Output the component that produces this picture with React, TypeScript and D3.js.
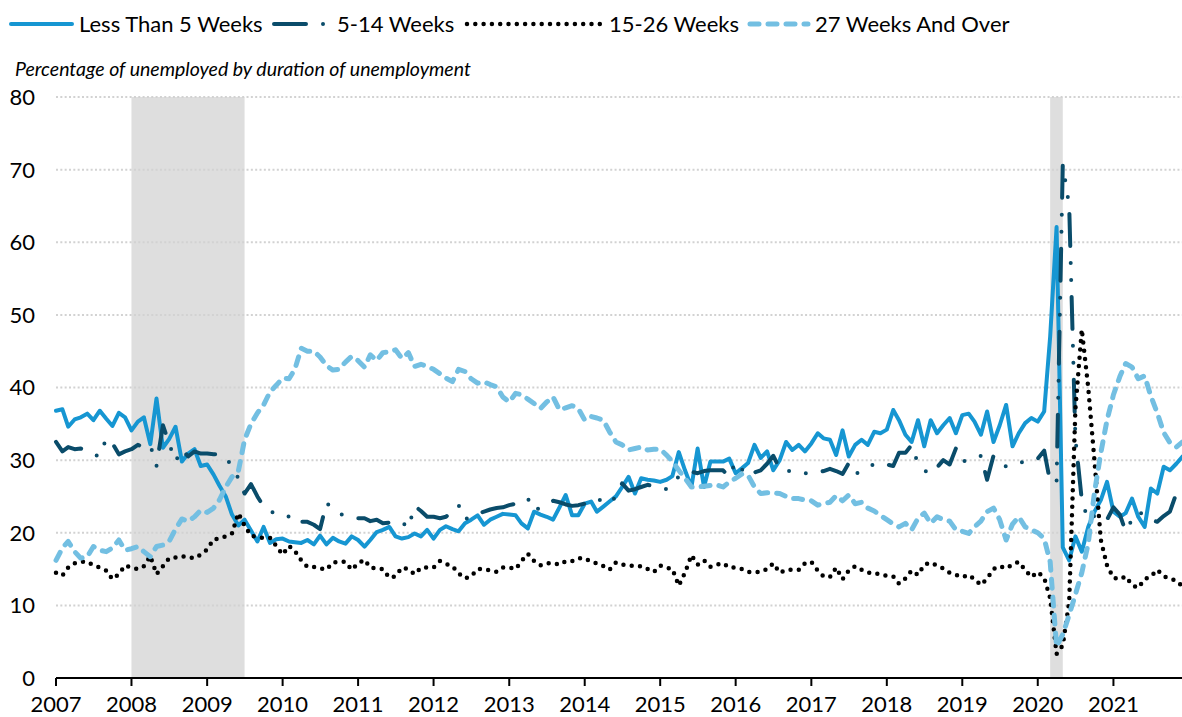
import React from 'react';
import * as d3 from 'd3';

// ---------- data (percent of unemployed, monthly Jan 2007 – Dec 2021) ----------
const startYear = 2007;
const yearTicks = [2007, 2008, 2009, 2010, 2011, 2012, 2013, 2014, 2015, 2016, 2017, 2018, 2019, 2020, 2021];
const yTicks = [0, 10, 20, 30, 40, 50, 60, 70, 80];

const lessThan5 = [
  36.8, 37.0, 34.6, 35.6, 35.9, 36.4, 35.5, 36.8, 35.7, 34.7, 36.5, 35.9,
  34.1, 35.3, 35.9, 32.2, 38.5, 31.7, 32.9, 34.6, 29.8, 30.9, 31.5, 29.2,
  29.4, 28.0, 26.5, 25.0, 22.5, 21.0, 21.8, 20.3, 18.8, 20.8, 18.6, 19.1,
  19.2, 18.8, 18.7, 18.6, 19.0, 18.4, 19.6, 18.4, 19.3, 18.8, 18.5, 19.5,
  19.0, 18.1, 19.0, 20.1, 20.4, 20.8, 19.5, 19.2, 19.4, 19.9, 19.5, 20.4,
  19.2, 20.4, 20.9, 20.5, 20.2, 21.3, 21.8, 22.4, 21.1, 21.8, 22.2, 22.6,
  22.5, 22.4, 21.3, 20.6, 22.9, 22.5, 22.2, 21.8, 23.5, 25.2, 22.4, 22.4,
  24.0, 24.3, 22.9, 23.6, 24.3, 25.0, 26.3, 27.7, 25.4, 27.5, 27.3, 27.2,
  27.0, 27.3, 27.8, 31.1, 28.6, 26.3, 31.6, 26.3, 29.8, 29.8, 29.8, 30.2,
  28.2, 28.9, 29.6, 32.1, 30.3, 31.2, 28.6, 30.0, 32.5, 31.4, 32.1, 31.2,
  32.3, 33.7, 33.0, 32.8, 30.7, 34.1, 30.5, 32.1, 32.8, 32.1, 33.9, 33.7,
  34.2, 36.9, 35.5, 33.5, 32.5, 35.5, 31.9, 35.5, 33.7, 34.8, 35.8, 33.7,
  36.2, 36.4, 35.3, 33.5, 36.7, 32.5, 34.8, 37.6, 31.9, 33.7, 35.1, 35.8,
  35.3, 36.7, 47.0, 62.1, 18.0, 16.2, 19.5, 17.4, 20.8, 22.9, 24.5, 27.0,
  22.9, 22.2, 22.7, 24.7, 22.2, 20.8, 26.1, 25.4, 29.1, 28.6, 29.5, 30.5,
];

const weeks5to14 = [
  32.5, 31.2, 31.8, 31.5, 31.6, 31.2, 30.8, 30.5, 33.0, 32.3, 30.8, 31.2,
  31.5, 32.1, 31.8, 32.1, 29.2, 34.8, 32.3, 29.8, 31.5, 30.5, 31.2, 30.9,
  30.9, 30.8, 30.8, 30.4, 29.1, 27.5, 25.4, 26.7, 25.0, 23.6, 23.0, 22.6,
  22.6, 22.2, 21.3, 21.5, 21.5, 21.1, 20.5, 24.1, 23.3, 22.6, 22.4, 22.2,
  22.0, 22.0, 21.6, 21.8, 21.3, 21.4, 21.5, 21.5, 20.6, 23.7, 23.0, 22.2,
  22.2, 22.0, 22.2, 23.0, 23.8, 21.8, 22.3, 22.6, 22.9, 23.2, 23.4, 23.5,
  23.8, 24.0, 24.4, 24.7, 23.0, 23.5, 24.0, 24.4, 24.2, 23.9, 23.7, 23.8,
  24.0, 24.4, 24.7, 24.3, 24.0, 25.0, 26.8, 25.8, 26.0, 26.3, 26.6, 26.4,
  26.2, 26.0, 27.0, 27.7, 28.0, 28.4, 28.2, 28.5, 28.6, 28.6, 28.6, 27.7,
  29.8, 28.7, 27.8, 28.3, 28.6, 29.5, 30.6, 28.8, 28.6, 28.4, 28.2, 28.2,
  28.2, 28.3, 28.5, 28.8, 28.5, 28.1, 29.6, 28.1, 28.5, 29.1, 29.4, 29.6,
  29.4, 29.2, 31.0, 31.0, 32.1, 29.5, 28.6, 28.1, 29.0, 30.0, 29.4, 31.6,
  29.8, 30.0, 30.2, 30.6, 27.3, 30.6, 30.0, 29.1, 29.3, 29.6, 29.8, 30.0,
  30.2, 31.3, 27.0, 27.0, 70.7, 65.0, 33.0, 24.5, 21.7, 22.3, 22.5, 21.8,
  23.5, 22.5, 20.2, 21.8, 22.9, 22.4, 21.8, 21.5, 22.3, 22.9, 25.4, 24.7,
];

const weeks15to26 = [
  14.5, 14.1, 15.2, 15.8, 16.0, 16.0, 15.5, 15.2, 14.8, 13.6, 14.3, 15.5,
  15.2, 15.0, 15.4, 16.8, 14.3, 15.4, 16.5, 16.6, 16.8, 16.6, 16.5, 17.0,
  17.7, 19.1, 19.2, 19.5, 19.9, 22.7, 21.0, 19.6, 19.4, 19.3, 19.3, 18.2,
  17.0, 18.2, 17.5, 16.2, 15.3, 15.3, 15.1, 14.9, 15.9, 16.0, 16.0, 14.9,
  15.8, 16.3, 15.2, 15.1, 15.0, 13.8, 14.0, 15.2, 15.0, 14.3, 15.2, 15.2,
  15.2, 16.1, 15.7, 15.4, 14.4, 13.7, 14.0, 15.0, 15.0, 14.8, 14.6, 15.2,
  15.2, 15.0, 16.1, 17.1, 16.1, 15.5, 15.8, 15.8, 15.6, 16.1, 16.1, 16.5,
  16.5, 16.0, 15.8, 15.4, 14.9, 15.9, 15.6, 15.5, 15.4, 15.4, 15.0, 14.6,
  15.5, 15.2, 15.0, 12.7, 14.5, 16.9, 15.6, 16.2, 15.3, 15.6, 15.8, 15.2,
  15.2, 15.0, 14.6, 14.6, 14.6, 15.0, 15.8, 14.5, 14.9, 14.9, 14.9, 15.8,
  16.0, 14.8, 14.0, 13.9, 15.2, 13.6, 14.8, 15.4, 14.9, 14.5, 14.5, 14.2,
  14.1, 14.0, 13.0, 13.7, 14.8, 14.2, 15.6, 15.9, 15.5, 15.1, 14.5, 14.2,
  13.9, 14.2, 13.6, 12.8, 13.7, 15.0, 15.4, 15.1, 15.6, 16.0, 14.9, 13.9,
  14.6, 13.8, 11.0, 3.3, 4.5, 10.5, 37.0, 48.0, 40.0, 30.0, 19.0, 15.5,
  13.8, 13.6, 14.0, 12.8, 12.4, 13.6, 14.0, 14.9, 14.0, 13.7, 13.4, 12.6,
];

const weeks27plus = [
  16.2, 17.9, 18.8, 17.4, 16.5, 16.7, 18.1, 17.6, 17.4, 17.9, 19.0, 17.6,
  17.8, 18.1, 17.4, 16.7, 18.1, 18.3, 18.8, 20.5, 21.9, 21.6, 22.2, 23.1,
  22.8, 23.4, 24.5, 26.3, 27.7, 28.5, 32.8, 35.0, 36.5, 37.6, 39.4, 40.3,
  41.3, 41.2, 42.5, 45.4, 45.0, 45.0, 44.2, 43.0, 42.4, 42.5, 43.5, 44.3,
  43.7, 42.8, 44.5, 43.7, 44.8, 44.9, 45.2, 44.0, 44.8, 42.9, 43.2, 42.9,
  42.5, 41.9, 41.3, 40.8, 42.5, 42.2, 41.2, 40.6, 40.8, 40.4, 40.1, 38.7,
  38.0, 39.2, 39.0, 38.4, 37.8, 37.1, 38.0, 38.7, 36.9, 37.2, 37.5, 37.1,
  35.5, 36.0, 35.8, 35.5, 33.9, 32.5, 32.1, 31.4, 31.6, 31.8, 31.4, 31.5,
  31.5, 30.7, 29.8, 28.6, 27.5, 26.3, 26.3, 26.4, 26.5, 26.6, 26.3, 27.0,
  27.5, 28.1, 27.9, 26.3, 25.4, 25.5, 25.5, 25.4, 25.0, 24.7, 24.7, 24.5,
  24.4, 23.8, 24.0, 24.2, 25.1, 24.4, 25.2, 24.0, 24.2, 23.4, 23.0, 22.4,
  21.8, 21.2, 20.8, 21.3, 20.4, 22.0, 22.7, 21.3, 22.2, 21.8, 21.6, 20.4,
  20.2, 19.9, 20.8, 21.6, 22.9, 23.4, 21.8, 19.0, 21.2, 22.2, 20.8, 20.4,
  20.0, 19.2, 16.0, 4.3, 6.0, 8.7, 11.5, 14.5, 18.5, 25.5, 31.0, 35.5,
  39.0, 41.5, 43.3, 42.8, 41.2, 41.6, 38.8, 36.5, 33.8, 32.4, 31.8, 32.5,
];

// recessions as [start year, start month, end year, end month] (month 0-based)
const recessions: [number, number, number, number][] = [
  [2008, 0, 2009, 6],
  [2020, 2, 2020, 4],
];

const seriesNames = ['Less Than 5 Weeks', '5-14 Weeks', '15-26 Weeks', '27 Weeks And Over'];

// ---------- styling ----------
const W = 1182;
const H = 717;
const FONT = 'Lato, "Open Sans", sans-serif';

const styles = [
  { color: '#1696d2', width: 4, dash: undefined as string | undefined, cap: 'round' },
  { color: '#0a4c6a', width: 4, dash: '32,17,0,17,0,17', cap: 'round' },
  { color: '#000000', width: 4.5, dash: '0,8.3', cap: 'round' },
  { color: '#73bfe2', width: 5, dash: '9,9', cap: 'round' },
];

const legendPos = [
  { x1: 11, x2: 72, tx: 79 },
  { x1: 274, x2: 326, tx: 337 },
  { x1: 467, x2: 601, tx: 609 },
  { x1: 750, x2: 808, tx: 815 },
];

export default function App() {
  const n = lessThan5.length;
  const dates = d3.range(n).map((i) => new Date(Date.UTC(startYear, i, 1)));
  const x = d3
    .scaleUtc()
    .domain([dates[0], dates[n - 1]])
    .range([56, 1182.5]);
  const y = d3.scaleLinear().domain([0, 80]).range([678, 97]);

  const line = d3
    .line<number>()
    .x((_, i) => x(dates[i]))
    .y((d) => y(d))
    .curve(d3.curveLinear);

  const allSeries = [lessThan5, weeks5to14, weeks15to26, weeks27plus];

  return (
    <svg
      width={W}
      height={H}
      viewBox={`0 0 ${W} ${H}`}
      style={{ position: 'absolute', left: 0, top: 0, background: '#fff' }}
      fontFamily={FONT}
    >
      {/* recession shading */}
      {recessions.map(([y0, m0, y1, m1], i) => (
        <rect
          key={i}
          x={x(new Date(Date.UTC(y0, m0, 1)))}
          y={y(80)}
          width={x(new Date(Date.UTC(y1, m1, 1))) - x(new Date(Date.UTC(y0, m0, 1)))}
          height={y(0) - y(80)}
          fill="#dedede"
        />
      ))}

      {/* gridlines */}
      {yTicks
        .filter((t) => t > 0)
        .map((t) => (
          <line
            key={t}
            x1={56}
            x2={W}
            y1={y(t)}
            y2={y(t)}
            stroke="#d2d2d2"
            strokeWidth={2}
            strokeDasharray="2,2.33"
          />
        ))}

      {/* y tick labels */}
      {yTicks.map((t) => (
        <text key={t} x={35} y={y(t)} dy="0.36em" textAnchor="end" fontSize={22} fill="#000">
          {t}
        </text>
      ))}

      {/* lines */}
      {allSeries.map((vals, i) => (
        <path
          key={i}
          d={line(vals) || ''}
          fill="none"
          stroke={styles[i].color}
          strokeWidth={styles[i].width}
          strokeDasharray={styles[i].dash}
          strokeLinecap={styles[i].cap as any}
          strokeLinejoin="round"
        />
      ))}

      {/* x axis */}
      <line x1={56} x2={W} y1={y(0)} y2={y(0)} stroke="#000" strokeWidth={2} />
      {yearTicks.map((yr) => {
        const xx = x(new Date(Date.UTC(yr, 0, 1)));
        return (
          <g key={yr}>
            <line x1={xx} x2={xx} y1={y(0)} y2={y(0) + 8} stroke="#000" strokeWidth={2} />
            <text x={xx} y={712} textAnchor="middle" fontSize={22} fill="#000">
              {yr}
            </text>
          </g>
        );
      })}

      {/* subtitle */}
      <text x={15} y={76} fontSize={19.5} fontStyle="italic" fill="#000">
        Percentage of unemployed by duration of unemployment
      </text>

      {/* legend */}
      {seriesNames.map((name, i) => (
        <g key={name}>
          <line
            x1={legendPos[i].x1}
            x2={legendPos[i].x2}
            y1={24}
            y2={24}
            stroke={styles[i].color}
            strokeWidth={styles[i].width}
            strokeDasharray={styles[i].dash}
            strokeLinecap={styles[i].cap as any}
          />
          <text x={legendPos[i].tx} y={32} fontSize={22} fill="#000">
            {name}
          </text>
        </g>
      ))}
    </svg>
  );
}
